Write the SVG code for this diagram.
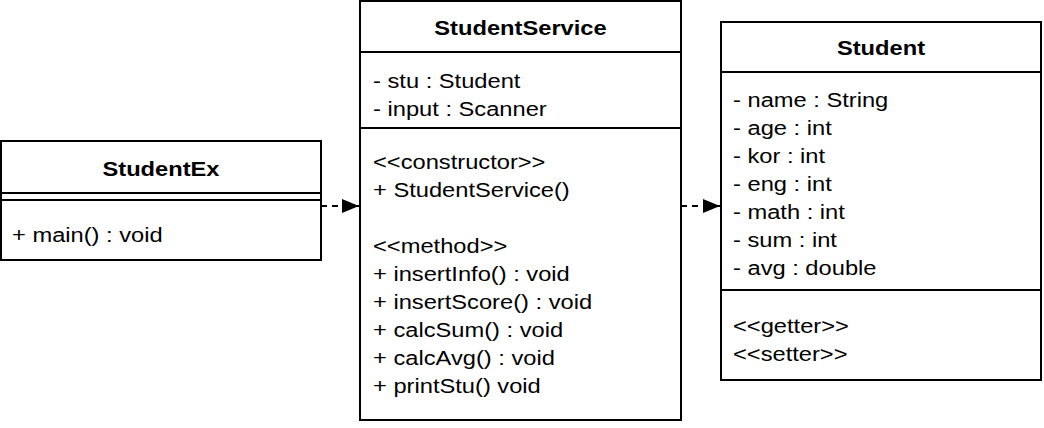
<svg xmlns="http://www.w3.org/2000/svg" width="1044" height="428" viewBox="0 0 1044 428">
<style>
.box{fill:#fff;stroke:#000;stroke-width:2}
.ln{stroke:#000;stroke-width:2;fill:none}
.t{font-family:"Liberation Sans",Arial,sans-serif;font-size:20.6px;fill:#000}
.b{font-weight:bold;text-anchor:middle}
.dep{stroke:#000;stroke-width:2;fill:none;stroke-dasharray:6 5}
</style>
<defs>
<marker id="ah" markerUnits="userSpaceOnUse" markerWidth="18" markerHeight="16" refX="17" refY="8" orient="auto">
<path d="M0,1 L17,8 L0,15 Z" fill="#000"/>
</marker>
</defs>
<g id="connectors">
<line class="dep" x1="321" y1="206" x2="359" y2="206" marker-end="url(#ah)"/>
<line class="dep" x1="681" y1="206" x2="720" y2="206" marker-end="url(#ah)"/>
</g>
<g id="StudentEx">
<rect class="box" x="1" y="141" width="320" height="119"/>
<line class="ln" x1="1" y1="193" x2="321" y2="193"/>
<line class="ln" x1="1" y1="200" x2="321" y2="200"/>
<text class="t b" transform="translate(161 176) scale(1.15 1)">StudentEx</text>
<text class="t" transform="translate(12 242) scale(1.15 1)">+ main() : void</text>
</g>
<g id="StudentService">
<rect class="box" x="360" y="1" width="321" height="419"/>
<line class="ln" x1="360" y1="52" x2="681" y2="52"/>
<line class="ln" x1="360" y1="128" x2="681" y2="128"/>
<text class="t b" transform="translate(520.5 35) scale(1.15 1)">StudentService</text>
<g transform="translate(373 0) scale(1.15 1)" class="t">
<text y="88">- stu : Student</text>
<text y="116">- input : Scanner</text>
<text y="169">&lt;&lt;constructor&gt;&gt;</text>
<text y="197">+ StudentService()</text>
<text y="253">&lt;&lt;method&gt;&gt;</text>
<text y="281">+ insertInfo() : void</text>
<text y="309">+ insertScore() : void</text>
<text y="337">+ calcSum() : void</text>
<text y="365">+ calcAvg() : void</text>
<text y="393">+ printStu() void</text>
</g>
</g>
<g id="Student">
<rect class="box" x="721" y="22" width="320" height="358"/>
<line class="ln" x1="721" y1="72" x2="1041" y2="72"/>
<line class="ln" x1="721" y1="290" x2="1041" y2="290"/>
<text class="t b" transform="translate(881 55) scale(1.15 1)">Student</text>
<g transform="translate(733 0) scale(1.15 1)" class="t">
<text y="107">- name : String</text>
<text y="135">- age : int</text>
<text y="163">- kor : int</text>
<text y="191">- eng : int</text>
<text y="219">- math : int</text>
<text y="247">- sum : int</text>
<text y="275">- avg : double</text>
<text y="333">&lt;&lt;getter&gt;&gt;</text>
<text y="361">&lt;&lt;setter&gt;&gt;</text>
</g>
</g>
</svg>
